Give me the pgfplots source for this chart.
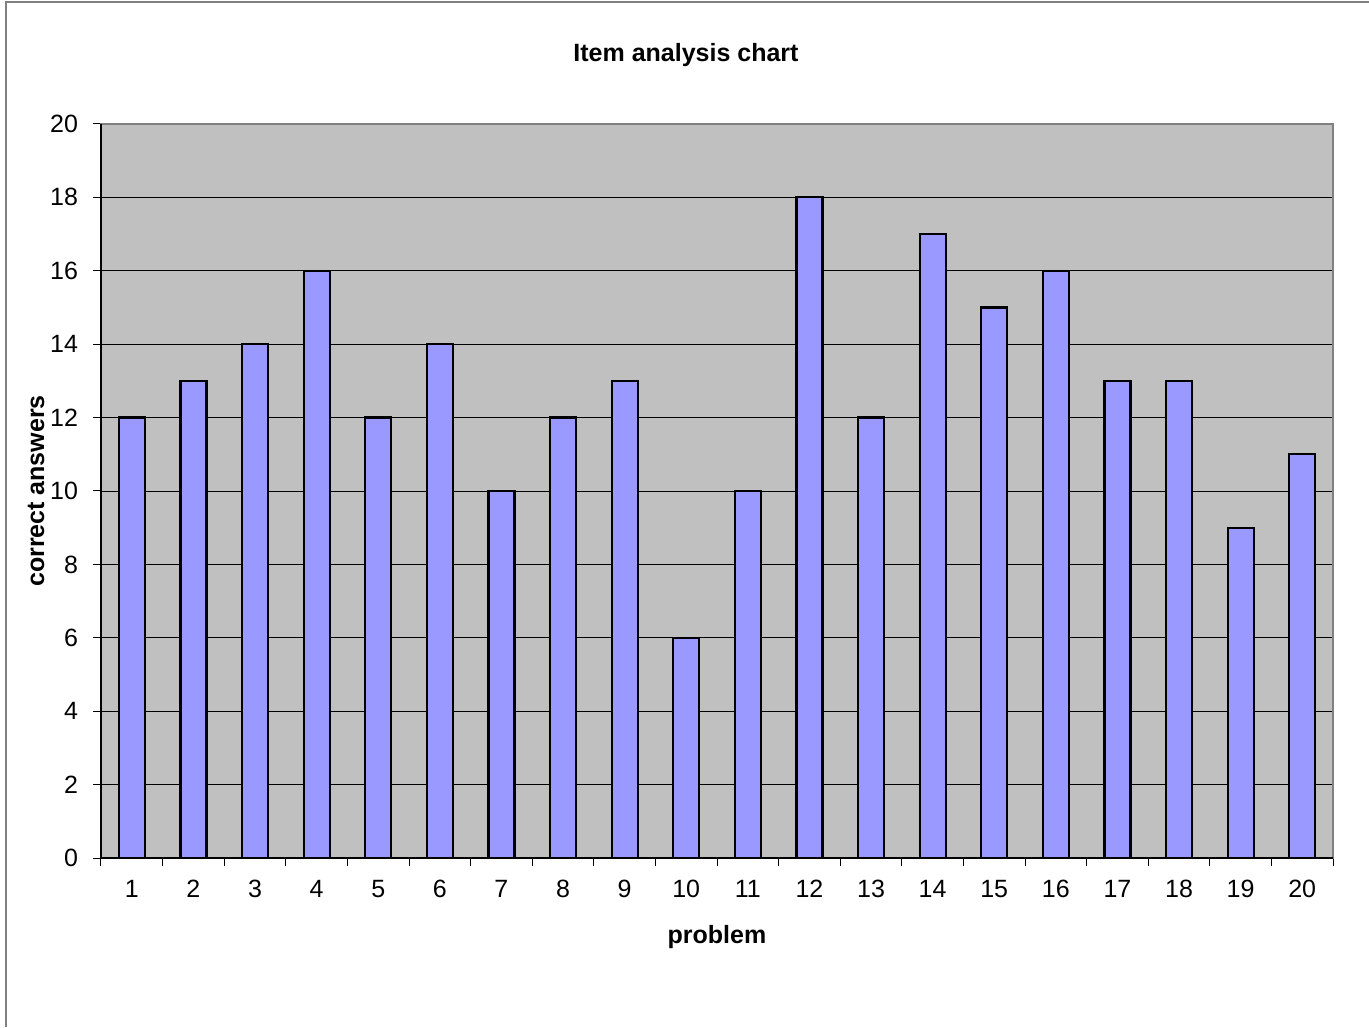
\documentclass[border=0pt]{standalone}
\usepackage{pgfplots}
\pgfplotsset{compat=1.18}
\usepackage{fontspec}
\setmainfont{Liberation Sans}
\definecolor{plotbg}{HTML}{C0C0C0}
\definecolor{barfill}{HTML}{9999FF}
\definecolor{frame}{HTML}{808080}

\begin{document}
\begin{tikzpicture}[x=1pt,y=1pt]
% page: 1369x1027 px at 0.5pt/px, plot box lower left at px (101,858)
\path[use as bounding box] (-50.5,-84.5) rectangle (634,429);
\draw[frame,line width=0.8pt] (-47.5,-84.5) -- (-47.5,428) -- (634,428);
\begin{axis}[
  at={(0,0)}, anchor=south west,
  width=616pt, height=367pt, scale only axis,
  xmin=0.5, xmax=20.5, ymin=0, ymax=20,
  axis background/.style={fill=plotbg},
  axis line style={frame, line width=1pt},
  xtick={0.5,1.5,...,20.5},
  x tick label as interval,
  xticklabels={1,2,3,4,5,6,7,8,9,10,11,12,13,14,15,16,17,18,19,20},
  ytick={0,2,...,20},
  ymajorgrids, grid style={black, line width=0.4pt},
  tick style={black, line width=0.5pt},
  tick align=outside, tick pos=left,
  major tick length=4pt,
  ticklabel style={font=\fontsize{12.5}{14}\selectfont},
  xticklabel style={yshift=-3.5pt},
  yticklabel style={xshift=-4pt},
  /pgf/number format/assume math mode=true,
  xlabel={\textbf{problem}},
  ylabel={\textbf{correct answers}},
  label style={font=\fontsize{12.5}{14}\selectfont},
  xlabel style={yshift=-7pt},
  ylabel style={yshift=-4pt},
  title={\textbf{Item analysis chart}},
  title style={font=\fontsize{12.5}{14}\selectfont, yshift=19pt, xshift=-15.5pt},
  clip=false,
]
\addplot[ybar, bar width=13pt, fill=barfill, draw=black, line width=1.1pt]
  coordinates {(1,12)(2,13)(3,14)(4,16)(5,12)(6,14)(7,10)(8,12)(9,13)(10,6)
  (11,10)(12,18)(13,12)(14,17)(15,15)(16,16)(17,13)(18,13)(19,9)(20,11)};
\draw[black, line width=1pt] (rel axis cs:0,1) -- (rel axis cs:0,0) -- (rel axis cs:1,0);
\end{axis}
\end{tikzpicture}
\end{document}
